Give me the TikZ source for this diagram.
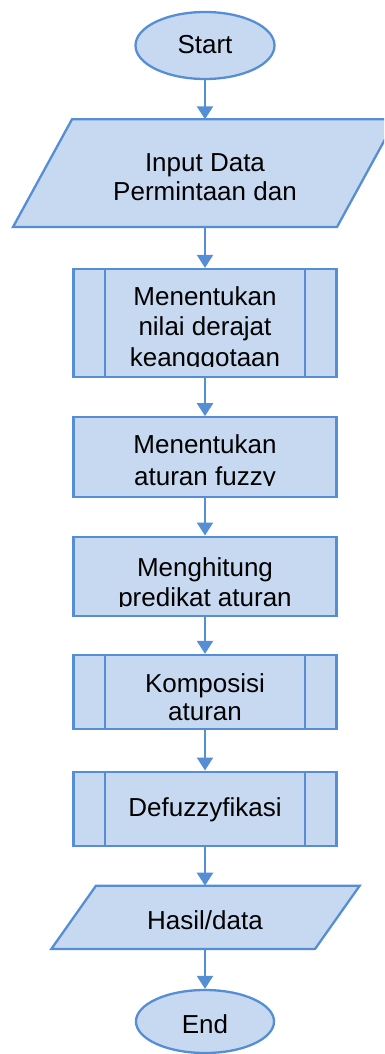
\documentclass[tikz,border=0pt]{standalone}
\usepackage{fontspec}
\setmainfont{Liberation Sans}
\usetikzlibrary{shapes.geometric,arrows.meta}
\definecolor{fc}{HTML}{C6D9F1}
\definecolor{lc}{HTML}{558ED5}
\tikzset{
  shp/.style={draw=lc,fill=fc,line width=2.3pt},
  term/.style={shp,ellipse,inner sep=0pt},
  procbox/.style={shp,rectangle,inner sep=0pt,minimum width=263pt},
  arr/.style={draw=lc,line width=2.3pt,-{Triangle[width=16pt,length=13pt]}},
  txt/.style={anchor=base,inner sep=0pt,font=\fontsize{26}{30}\selectfont},
}
\begin{document}
\begin{tikzpicture}[x=1pt,y=-1pt]
\useasboundingbox (0,0) rectangle (384,1054);
\begin{scope}
\clip (0,0) rectangle (384,1054);
% shapes
\node[term,minimum width=139pt,minimum height=67pt] (start) at (205,45.5) {};
\draw[shp] (72,119.3) -- (396,119.3) -- (337,227) -- (13,227) -- cycle;
\coordinate (p1top) at (205,119.3);
\coordinate (p1bot) at (205,227);
\node[procbox,minimum height=108pt] (b3) at (205,323) {};
\draw[lc,line width=2.3pt] (105,269) -- (105,377) (305,269) -- (305,377);
\node[procbox,minimum height=79.4pt] (b4) at (205,457) {};
\node[procbox,minimum height=79.3pt] (b5) at (205,576.3) {};
\node[procbox,minimum height=74pt] (b6) at (205,692) {};
\draw[lc,line width=2.3pt] (105,655) -- (105,729) (305,655) -- (305,729);
\node[procbox,minimum height=74.3pt] (b7) at (205,808.8) {};
\draw[lc,line width=2.3pt] (105,771.7) -- (105,846) (305,771.7) -- (305,846);
\draw[shp] (96,885.7) -- (359.7,885.7) -- (315,949) -- (51.3,949) -- cycle;
\coordinate (p2top) at (205,885.7);
\coordinate (p2bot) at (205,949);
\node[term,minimum width=138pt,minimum height=63pt] (end) at (205,1021.5) {};
% arrows
\draw[arr] (start.south) -- (p1top);
\draw[arr] (p1bot) -- (b3.north);
\draw[arr] (b3.south) -- (b4.north);
\draw[arr] (b4.south) -- (b5.north);
\draw[arr] (b5.south) -- (b6.north);
\draw[arr] (b6.south) -- (b7.north);
\draw[arr] (b7.south) -- (p2top);
\draw[arr] (p2bot) -- (end.north);
% texts
\node[txt] (tstart) at (205,53.3) {Start};
\node[txt] (ti1) at (205,171.7) {Input Data};
\node[txt] (ti2) at (205,200.7) {Permintaan dan};
\begin{scope}
\clip (75,270) rectangle (335,366);
\node[txt] (t31) at (205,305) {Menentukan};
\node[txt] (t32) at (205,335) {nilai derajat};
\node[txt] (t33) at (205,366.5) {keanggotaan};
\end{scope}
\begin{scope}
\clip (75,418) rectangle (335,485);
\node[txt] (t41) at (205,453.3) {Menentukan};
\node[txt] (t42) at (205,485.5) {aturan fuzzy};
\end{scope}
\begin{scope}
\clip (75,538) rectangle (335,606);
\node[txt] (t51) at (205,576.7) {Menghitung};
\node[txt] (t52) at (205,606.5) {predikat aturan};
\end{scope}
\begin{scope}
\clip (75,656) rectangle (335,720.5);
\node[txt] (t61) at (205,692.7) {Komposisi};
\node[txt] (t62) at (205,720) {aturan};
\end{scope}
\node[txt] (t7) at (205,816) {Defuzzyfikasi};
\node[txt] (t8) at (205,929.3) {Hasil/data};
\node[txt] (tend) at (205,1033.3) {End};
\end{scope}
\end{tikzpicture}
\end{document}
